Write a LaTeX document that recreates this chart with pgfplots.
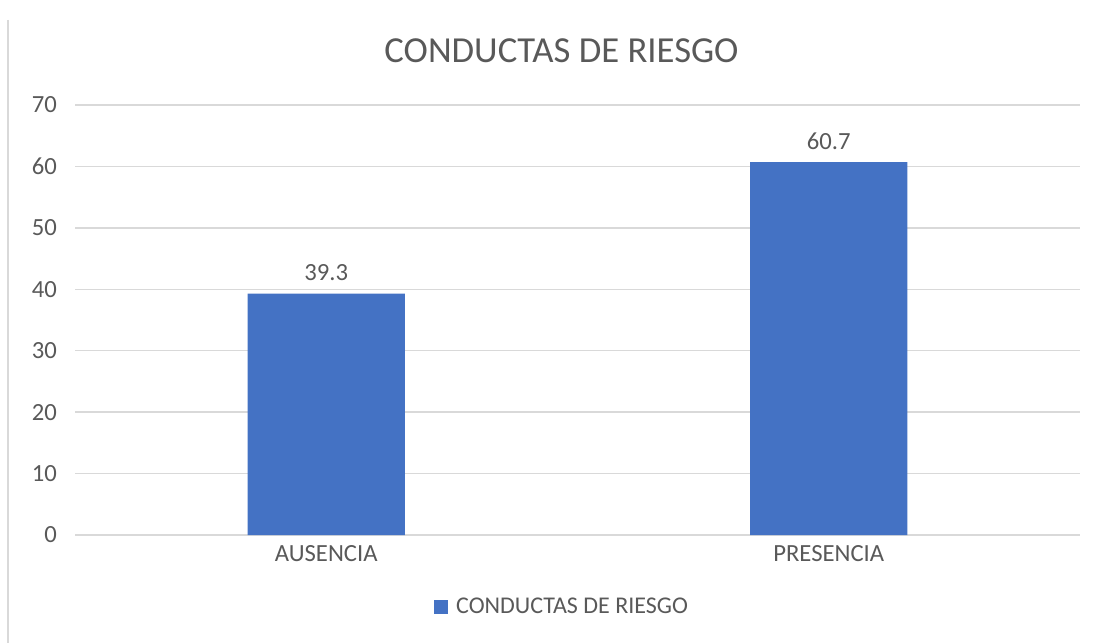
\documentclass[border=0pt]{standalone}
\usepackage{pgfplots}
\pgfplotsset{compat=1.18}
\usepackage{fontspec}
\setmainfont{Carlito}
\definecolor{barblue}{HTML}{4472C4}
\definecolor{txtgray}{HTML}{595959}
\definecolor{gridgray}{HTML}{D9D9D9}
\begin{document}
\begin{tikzpicture}
\begin{axis}[
    scale only axis,
    width=753.75pt, height=322.5pt,
    ybar, bar width=0.3125,
    xmin=-0.5, xmax=1.5,
    ymin=0, ymax=70,
    xtick={0,1},
    xticklabels={AUSENCIA, PRESENCIA},
    ytick={0,10,...,70},
    major tick length=0pt,
    axis line style={draw=none},
    ymajorgrids,
    grid style={gridgray, line width=1pt},
    /pgf/number format/assume math mode=true,
    ticklabel style={font=\fontsize{18.5}{22}\selectfont, text=txtgray},
    yticklabel style={xshift=-10pt},
    xticklabel style={yshift=-4pt},
    title={CONDUCTAS DE RIESGO},
    title style={font=\fontsize{27.5}{32}\selectfont, text=txtgray, yshift=22pt, xshift=-12pt},
    nodes near coords,
    nodes near coords style={font=\fontsize{18.5}{22}\selectfont, text=txtgray,
        /pgf/number format/fixed, /pgf/number format/precision=1,
        /pgf/number format/fixed zerofill, /pgf/number format/assume math mode=true, yshift=6pt},
    legend style={at={(0.485,-0.167)}, anchor=center, draw=none,
        font=\fontsize{18}{22}\selectfont, text=txtgray},
    legend image code/.code={\fill[barblue] (0pt,-5.25pt) rectangle (10.5pt,5.25pt);},
]
\addplot[fill=barblue, draw=none] coordinates {(0,39.3) (1,60.7)};
\legend{\hspace{4pt}CONDUCTAS DE RIESGO}
\end{axis}
\draw[gridgray, line width=1.2pt] (-50.25pt,386.25pt) -- (-50.25pt,-81pt);
\useasboundingbox (-56.25pt,-81pt) rectangle (768pt,401.25pt);
\end{tikzpicture}
\end{document}
